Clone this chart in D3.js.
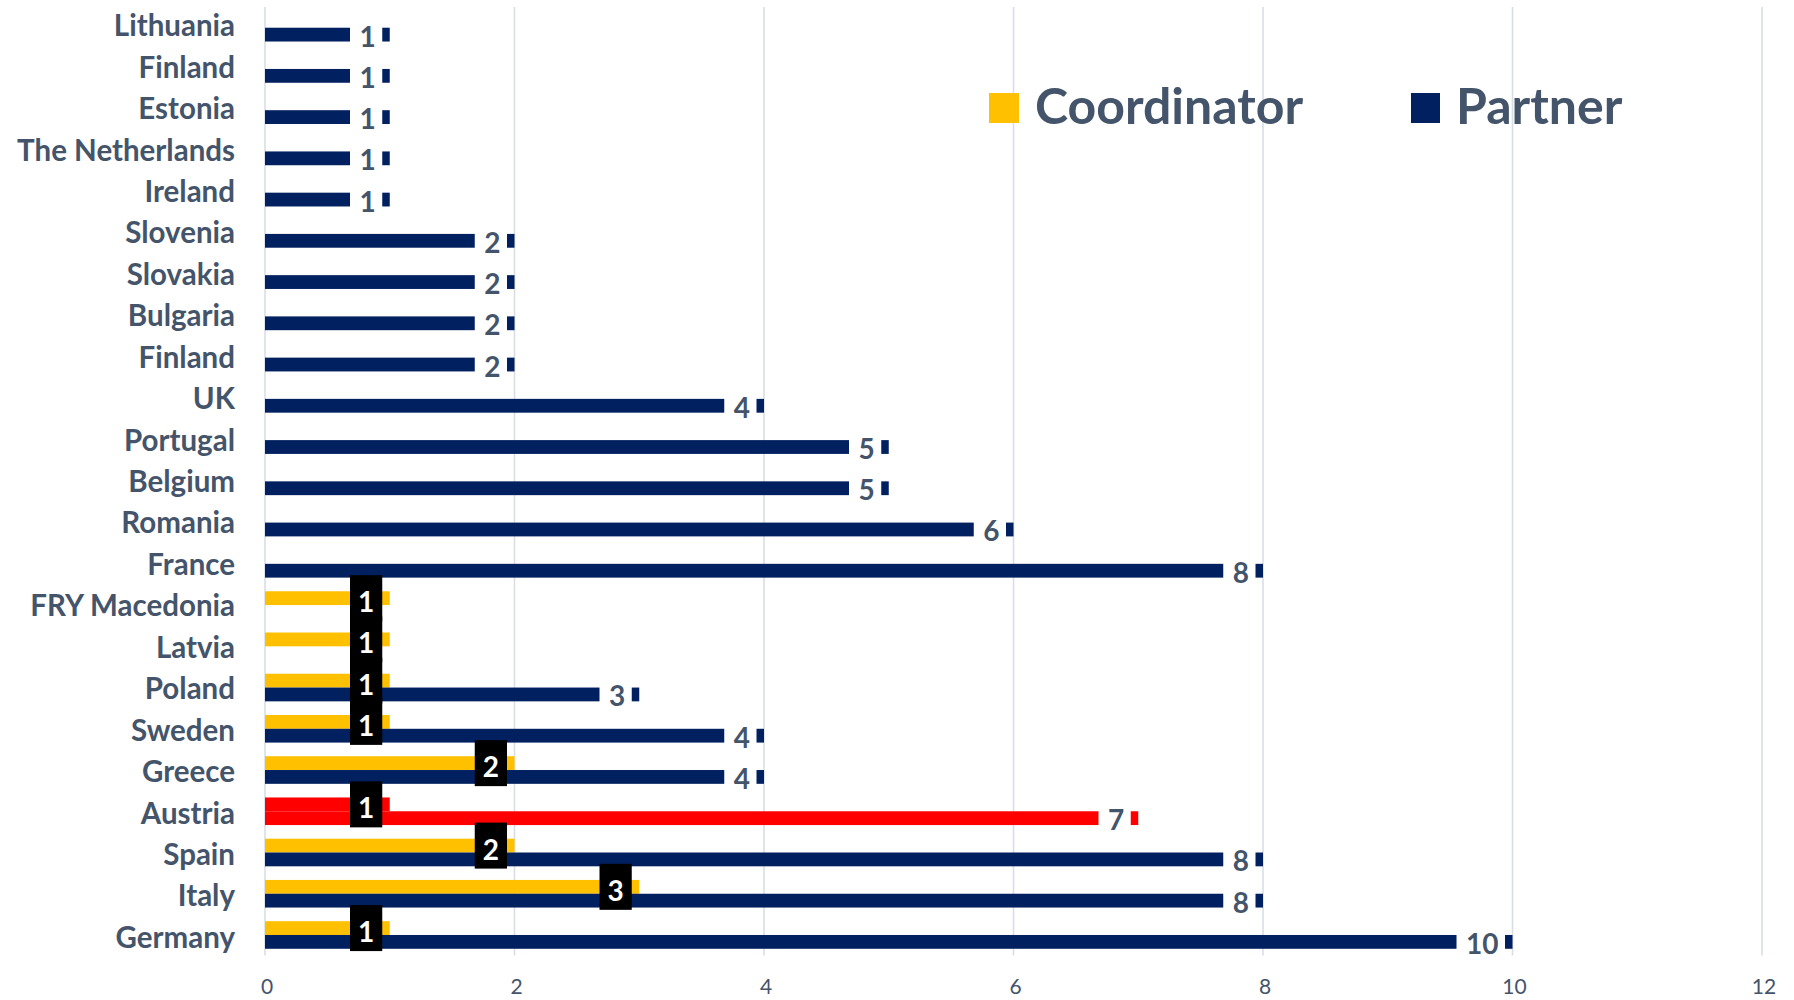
<!DOCTYPE html>
<html>
<head>
<meta charset="utf-8">
<script src="https://cdn.jsdelivr.net/npm/d3@7"></script>
<style>
  html, body { margin: 0; padding: 0; background: #fff; }
  svg { display: block; }
  text { font-family: Lato, "Noto Sans", sans-serif; }
</style>
</head>
<body>
<svg id="chart" width="1794" height="1000"></svg>
<script>
// ---- data (top to bottom) ----
const categories = ["Lithuania","Finland","Estonia","The Netherlands","Ireland","Slovenia","Slovakia","Bulgaria","Finland","UK","Portugal","Belgium","Romania","France","FRY Macedonia","Latvia","Poland","Sweden","Greece","Austria","Spain","Italy","Germany"];
const coordinator = [0,0,0,0,0,0,0,0,0,0,0,0,0,0,1,1,1,1,2,1,2,3,1];
const partner     = [1,1,1,1,1,2,2,2,2,4,5,5,6,8,0,0,3,4,4,7,8,8,10];
const highlighted = ["Austria"];
const xTicks = [0,2,4,6,8,10,12];
const seriesNames = ["Coordinator","Partner"];

// ---- styles ----
const COL_COORD = "#FFC000", COL_PART = "#002060", COL_HI = "#FF0000";
const COL_TEXT = "#44546A", COL_GRID = "#D9DEE6";

const svg = d3.select("#chart");
const x = d3.scaleLinear().domain([0, 12]).range([265, 1762]);
const y = d3.scaleBand().domain(d3.range(categories.length)).range([7.1, 955.6]);
const barH = 13.8;

// gridlines
svg.append("g").selectAll("line").data(xTicks).join("line")
  .attr("x1", d => x(d)).attr("x2", d => x(d))
  .attr("y1", y.range()[0]).attr("y2", y.range()[1])
  .attr("stroke", COL_GRID).attr("stroke-width", 1.6);

// x axis tick labels
svg.append("g").selectAll("text").data(xTicks).join("text")
  .attr("x", d => x(d) + 2).attr("y", 994)
  .attr("text-anchor", "middle")
  .attr("font-size", 21).attr("fill", COL_TEXT)
  .text(d => d);

// category labels
svg.append("g").selectAll("text").data(categories).join("text")
  .attr("x", 235).attr("y", (d, i) => y(i) + y.bandwidth() / 2 + 8.5 + i * 0.2)
  .attr("text-anchor", "end").attr("font-weight", 700)
  .attr("font-size", 29.5).attr("fill", COL_TEXT)
  .text(d => d);

const rows = categories.map((c, i) => ({ c, i, coord: coordinator[i], part: partner[i], hi: highlighted.includes(c) }));
const cy = d => y(d.i) + y.bandwidth() / 2;

// bars
const gBars = svg.append("g");
gBars.selectAll("rect.coord").data(rows.filter(d => d.coord > 0)).join("rect")
  .attr("class", "coord")
  .attr("x", x(0)).attr("y", d => cy(d) - barH)
  .attr("width", d => x(d.coord) - x(0)).attr("height", barH)
  .attr("fill", d => d.hi ? COL_HI : COL_COORD);
gBars.selectAll("rect.part").data(rows.filter(d => d.part > 0)).join("rect")
  .attr("class", "part")
  .attr("x", x(0)).attr("y", d => cy(d))
  .attr("width", d => x(d.part) - x(0)).attr("height", barH)
  .attr("fill", d => d.hi ? COL_HI : COL_PART);

// partner labels: white box masking the bar end
const pad = 8, gapEnd = 7.5;
const gPL = svg.append("g");
rows.filter(d => d.part > 0).forEach(d => {
  const g = gPL.append("g");
  const t = g.append("text").attr("font-weight", 700).attr("font-size", 28)
    .attr("fill", COL_TEXT).attr("text-anchor", "middle").text(d.part);
  const w = t.node().getComputedTextLength() + 2 * pad;
  const right = x(d.part) - gapEnd;
  const yc = cy(d) + barH / 2;
  g.insert("rect", "text").attr("x", right - w).attr("y", yc - 15).attr("width", w).attr("height", 30).attr("fill", "#fff");
  t.attr("x", right - w / 2 + 1.5).attr("y", yc + 12);
});

// coordinator labels: black box
const gCL = svg.append("g");
rows.filter(d => d.coord > 0).forEach(d => {
  const g = gCL.append("g");
  const t = g.append("text").attr("font-weight", 700).attr("font-size", 28)
    .attr("fill", "#fff").attr("text-anchor", "middle").text(d.coord);
  const w = t.node().getComputedTextLength() + 2 * pad;
  const right = x(d.coord) - gapEnd;
  const yc = cy(d) - barH / 2;
  g.insert("rect", "text").attr("x", right - w).attr("y", yc - 23).attr("width", w).attr("height", 46).attr("fill", "#000");
  t.attr("x", right - w / 2).attr("y", yc + 14);
});

// legend
const legend = svg.append("g");
const legendItems = [
  { name: seriesNames[0], color: COL_COORD, sx: 989, tx: 1035, size: 30 },
  { name: seriesNames[1], color: COL_PART, sx: 1411, tx: 1456, size: 29 }
];
legendItems.forEach(it => {
  legend.append("rect").attr("x", it.sx).attr("y", 93).attr("width", it.size).attr("height", 30).attr("fill", it.color);
  legend.append("text").attr("x", it.tx).attr("y", 123.5)
    .attr("font-weight", 700).attr("font-size", 50).attr("fill", COL_TEXT).text(it.name);
});
</script>
</body>
</html>
